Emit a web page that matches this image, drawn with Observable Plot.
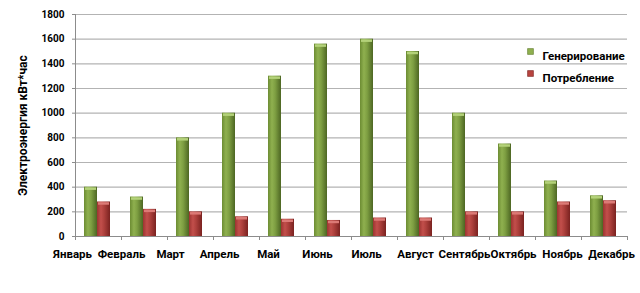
<!DOCTYPE html>
<html><head><meta charset="utf-8">
<script src="https://cdn.jsdelivr.net/npm/d3@7"></script>
<script src="https://cdn.jsdelivr.net/npm/@observablehq/plot@0.6"></script>
<style>
body{margin:0;background:#fff}
#chart{width:640px;height:293px;overflow:hidden}
#chart svg{display:block}
</style>
</head><body><div id="chart"></div>
<script>
const months = ["Январь","Февраль","Март","Апрель","Май","Июнь","Июль","Август","Сентябрь","Октябрь","Ноябрь","Декабрь"];
const generation = [400, 320, 800, 1000, 1300, 1560, 1600, 1500, 1000, 750, 450, 330];
const consumption = [280, 220, 200, 160, 140, 130, 150, 150, 200, 200, 280, 290];
const seriesNames = ["Генерирование", "Потребление"];
const yTicks = [0, 200, 400, 600, 800, 1000, 1200, 1400, 1600, 1800];
const yTitle = "Электроэнергия кВт*час";

const rows = months.map((m, i) => ({month: m, gen: generation[i], cons: consumption[i]}));
const font = "Roboto, 'Noto Sans', sans-serif";
const legendFill = ["#8fb04f", "#b8443f"];
const legendStroke = ["#5f7a2c", "#7a2220"];

const legendMarks = seriesNames.flatMap((name, i) => [
  Plot.dot([name], {frameAnchor: "top-left", dx: 455, dy: 37 + 22 * i, symbol: "square", r: 3.3,
    fill: legendFill[i], stroke: legendStroke[i], strokeWidth: 0.6}),
  Plot.text([name], {frameAnchor: "top-left", dx: 467, dy: 37 + 22 * i, text: d => d,
    textAnchor: "start", fontSize: 11.5, fontWeight: "bold", fill: "#000"})
]);

const main = Plot.plot({
  width: 640, height: 245,
  marginLeft: 75, marginRight: 13, marginTop: 14, marginBottom: 9,
  style: {fontFamily: font, background: "#fff", color: "#000"},
  x: {type: "band", domain: months, padding: 0, axis: null},
  y: {domain: [0, 1800], axis: null},
  marks: [
    Plot.gridY(yTicks, {stroke: "#b3b3b3", strokeOpacity: 1, strokeWidth: 1.2}),
    Plot.frame({anchor: "left", stroke: "#8c8c8c"}),
    Plot.axisY(yTicks, {tickSize: 3, tickPadding: 8, stroke: "#8c8c8c", fontSize: 10, fontWeight: "bold", label: null, tickFormat: d => String(d)}),
    Plot.text([yTitle], {frameAnchor: "left", textAnchor: "middle", dx: -52, rotate: -90, fontSize: 12, fontWeight: "bold", fill: "#000"}),
    Plot.barY(rows, {x: "month", y: "gen", fill: "url(#gGreen)", insetLeft: 9, insetRight: 24}),
    Plot.barY(rows, {x: "month", y: "cons", fill: "url(#gRed)", insetLeft: 22, insetRight: 11}),
    Plot.tickY(rows, {x: "month", y: "gen", stroke: "#b4d27a", strokeWidth: 2.5, insetLeft: 10, insetRight: 25, dy: 1.5}),
    Plot.tickY(rows, {x: "month", y: "cons", stroke: "#dc7a76", strokeWidth: 2.5, insetLeft: 23, insetRight: 12, dy: 1.5}),
    Plot.ruleY([0], {stroke: "#8c8c8c", strokeWidth: 1.2}),
    Plot.ruleX(months, {x: d => d, y1: 0, y2: 0, insetBottom: -4, dx: -23, stroke: "#8c8c8c"}),
    Plot.ruleX(months.slice(-1), {x: d => d, y1: 0, y2: 0, insetBottom: -4, dx: 23, stroke: "#8c8c8c"}),
    ...legendMarks
  ]
});

d3.select(main).insert("defs", ":first-child").html(`
  <linearGradient id="gGreen" x1="0" x2="1" y1="0" y2="0">
    <stop offset="0" stop-color="#6c8c33"/>
    <stop offset="0.3" stop-color="#8fb04f"/>
    <stop offset="0.55" stop-color="#7e9f42"/>
    <stop offset="1" stop-color="#4d6623"/>
  </linearGradient>
  <linearGradient id="gRed" x1="0" x2="1" y1="0" y2="0">
    <stop offset="0" stop-color="#9c3431"/>
    <stop offset="0.3" stop-color="#c24f4b"/>
    <stop offset="0.55" stop-color="#ad403c"/>
    <stop offset="1" stop-color="#7a2220"/>
  </linearGradient>`);

const labels = Plot.plot({
  width: 640, height: 48,
  marginTop: 9, marginBottom: 39, marginLeft: 0, marginRight: 0,
  style: {fontFamily: font, background: "#fff", color: "#000"},
  x: {type: "point", domain: months, range: [67, 616], padding: 0, axis: null},
  marks: [
    Plot.text(months, {x: d => d, frameAnchor: "top", lineAnchor: "middle", fontSize: 11.5, fontWeight: "bold", fill: "#000"})
  ]
});

const chart = document.getElementById("chart");
chart.append(main, labels);
</script>
</body></html>
